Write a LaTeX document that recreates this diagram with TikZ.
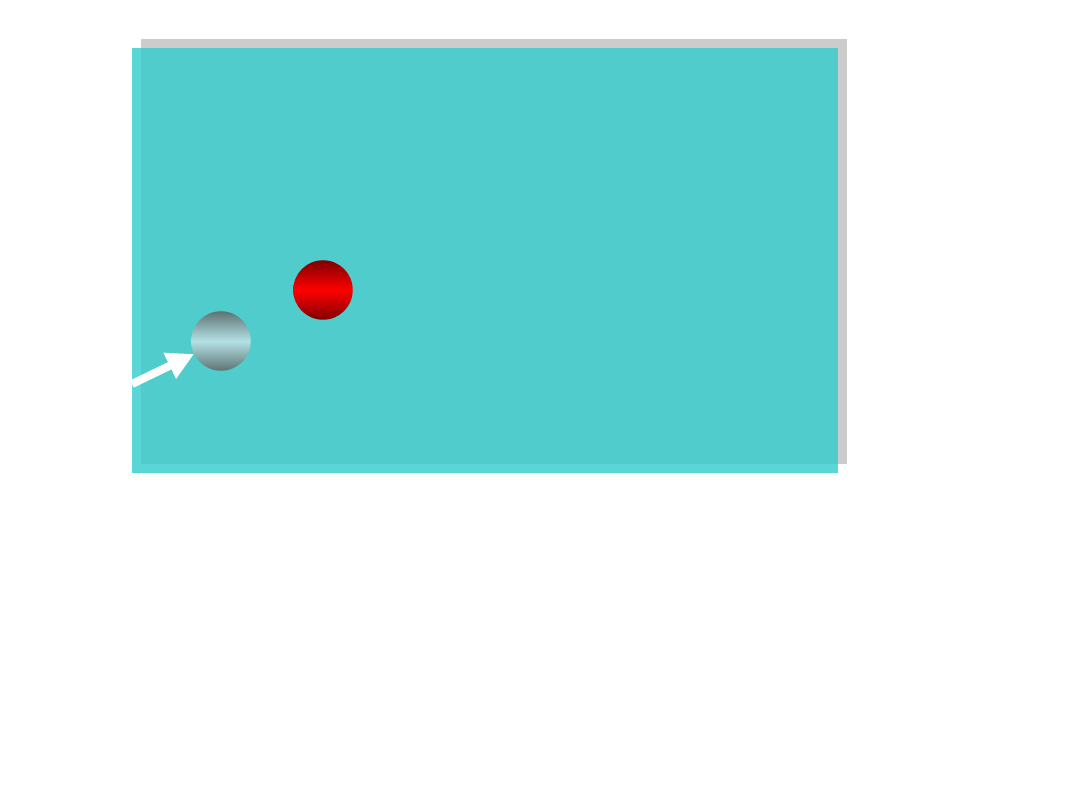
\documentclass[tikz,border=0pt]{standalone}
\usetikzlibrary{arrows.meta}
\definecolor{tealfill}{HTML}{33CCCC}
\definecolor{shadowgray}{HTML}{CCCCCC}
\definecolor{silvermid}{HTML}{B4E2E6}
\definecolor{silverdark}{HTML}{5E7272}
\tikzset{
  shadowbox/.style={fill=shadowgray, draw=none},
  panel/.style={fill=tealfill, fill opacity=0.8, draw=none},
  ball/.style={circle, draw=none, minimum size=59.5pt, inner sep=0pt},
  redball/.style={ball, top color=red!50!black, bottom color=red!50!black, middle color=red},
  silverball/.style={ball, top color=silverdark, bottom color=silverdark, middle color=silvermid},
  pusharrow/.style={draw=white, line width=8pt, -{Triangle[length=27pt,width=27pt]}}
}
\begin{document}
\begin{tikzpicture}[x=1pt,y=-1pt]
\useasboundingbox (0,0) rectangle (1080,810);
\fill[white] (0,0) rectangle (1080,810);
\path[shadowbox] (141,39) rectangle (847,464);
\path[panel] (132,48) rectangle (838,473);
\node[redball] (red) at (323,290) {};
\node[silverball] (silver) at (221,341) {};
\coordinate (start) at (132,384);
\draw[pusharrow] (start) -- (silver);
\end{tikzpicture}
\end{document}
